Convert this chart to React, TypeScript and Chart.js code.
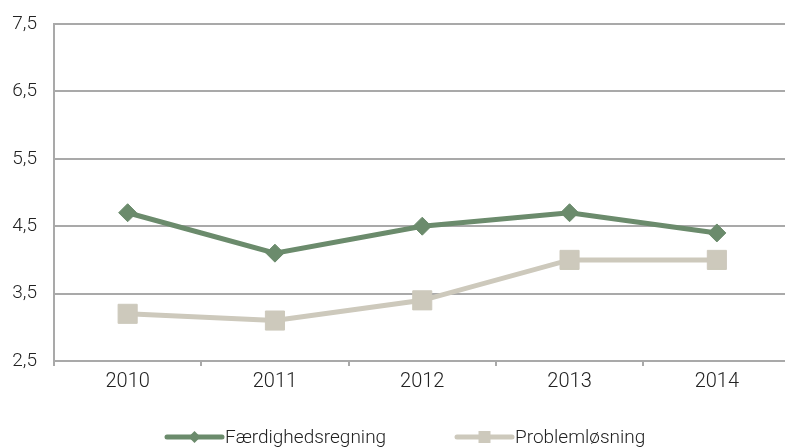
import React, { useEffect, useRef } from "react";
import { Chart, registerables } from "chart.js";

Chart.register(...registerables);

const categories = ["2010", "2011", "2012", "2013", "2014"];
const faerdighedsregning = [4.7, 4.1, 4.5, 4.7, 4.4];
const problemloesning = [3.2, 3.1, 3.4, 4.0, 4.0];
const yTickValues = [2.5, 3.5, 4.5, 5.5, 6.5, 7.5];
const seriesNames = ["Færdighedsregning", "Problemløsning"];

const GREEN = "#6b8b6c";
const BEIGE = "#cdc9bc";
const GRID = "#a9a9a9";
const TEXT = "#222222";
const FONT_FAMILY = "Roboto, 'DejaVu Sans', sans-serif";

const legendPlugin = {
  id: "lineMarkerLegend",
  afterDraw(chart: any) {
    const ctx = chart.ctx as CanvasRenderingContext2D;
    const items = [
      { x1: 167, x2: 222, tx: 225 },
      { x1: 457, x2: 512, tx: 515 },
    ];
    const y = 437;
    chart.data.datasets.forEach((ds: any, i: number) => {
      const it = items[i];
      if (!it) return;
      ctx.save();
      ctx.strokeStyle = ds.borderColor;
      ctx.lineWidth = 5;
      ctx.lineCap = "round";
      ctx.beginPath();
      ctx.moveTo(it.x1, y);
      ctx.lineTo(it.x2, y);
      ctx.stroke();
      const cx = (it.x1 + it.x2) / 2;
      ctx.fillStyle = ds.pointBackgroundColor;
      ctx.beginPath();
      if (ds.pointStyle === "rectRot") {
        const r = 6;
        ctx.moveTo(cx - r, y);
        ctx.lineTo(cx, y - r);
        ctx.lineTo(cx + r, y);
        ctx.lineTo(cx, y + r);
        ctx.closePath();
      } else {
        const h = 6;
        ctx.rect(cx - h, y - h, 2 * h, 2 * h);
      }
      ctx.fill();
      ctx.fillStyle = TEXT;
      ctx.font = `300 19px ${FONT_FAMILY}`;
      ctx.textBaseline = "middle";
      ctx.textAlign = "left";
      ctx.fillText(ds.label, it.tx, y + 1);
      ctx.restore();
    });
  },
};

export default function App() {
  const canvasRef = useRef<HTMLCanvasElement | null>(null);

  useEffect(() => {
    if (!canvasRef.current) return;
    const chart = new Chart(canvasRef.current, {
      type: "line",
      data: {
        labels: categories,
        datasets: [
          {
            label: seriesNames[0],
            data: faerdighedsregning,
            borderColor: GREEN,
            backgroundColor: GREEN,
            pointBackgroundColor: GREEN,
            pointBorderColor: GREEN,
            borderWidth: 5,
            pointStyle: "rectRot",
            pointRadius: 9,
            pointBorderWidth: 1,
            tension: 0,
          },
          {
            label: seriesNames[1],
            data: problemloesning,
            borderColor: BEIGE,
            backgroundColor: BEIGE,
            pointBackgroundColor: BEIGE,
            pointBorderColor: BEIGE,
            borderWidth: 5,
            pointStyle: "rect",
            pointRadius: 13.5,
            pointBorderWidth: 1,
            tension: 0,
          },
        ],
      },
      options: {
        responsive: false,
        animation: false,
        devicePixelRatio: 1,
        layout: { padding: { top: 24, left: 0, right: 0, bottom: 60 } },
        plugins: {
          legend: { display: false },
          tooltip: { enabled: false },
        },
        scales: {
          x: {
            type: "category",
            offset: true,
            grid: {
              display: true,
              drawOnChartArea: false,
              drawTicks: true,
              tickLength: 5,
              offset: true,
              color: GRID,
              lineWidth: 2,
            },
            border: { display: true, color: GRID, width: 2 },
            ticks: {
              color: TEXT,
              font: { family: FONT_FAMILY, size: 20, weight: "300" },
              padding: 4,
              maxRotation: 0,
            },
            afterFit: (s: any) => {
              s.height = 39;
              s.paddingLeft = 0;
              s.paddingRight = 0;
            },
          },
          y: {
            type: "linear",
            min: 2.5,
            max: 7.5,
            grid: {
              color: GRID,
              lineWidth: 2,
              drawTicks: false,
            },
            border: { display: true, color: GRID, width: 2 },
            afterBuildTicks: (s: any) => {
              s.ticks = yTickValues.map((v) => ({ value: v }));
            },
            ticks: {
              color: TEXT,
              font: { family: FONT_FAMILY, size: 19, weight: "300" },
              padding: 17,
              callback: (v: any) => String(v).replace(".", ","),
            },
            afterFit: (s: any) => {
              s.width = 54;
              s.paddingTop = 0;
              s.paddingBottom = 0;
            },
          },
        },
      },
      plugins: [legendPlugin],
    });
    return () => chart.destroy();
  }, []);

  return (
    <div
      style={{
        position: "fixed",
        left: 0,
        top: 0,
        width: 785,
        height: 447,
        overflow: "hidden",
        background: "#ffffff",
      }}
    >
      <canvas ref={canvasRef} width={805} height={460} />
    </div>
  );
}
